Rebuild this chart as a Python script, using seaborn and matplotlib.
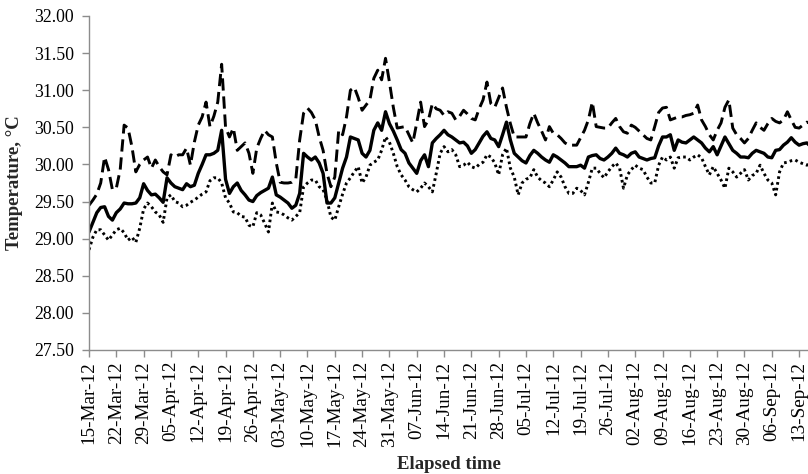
import numpy as np
import pandas as pd
import matplotlib
matplotlib.use("Agg")
import matplotlib.pyplot as plt
import matplotlib.dates as mdates
import seaborn as sns

start_date = "2012-03-15"
n_days = 186

mean_temp = [
    29.09, 29.22, 29.35, 29.42, 29.43, 29.30, 29.25, 29.35, 29.40, 29.48,
    29.47, 29.47, 29.48, 29.55, 29.74, 29.65, 29.59, 29.60, 29.55, 29.49,
    29.82, 29.75, 29.70, 29.68, 29.66, 29.74, 29.70, 29.72, 29.88, 30.00,
    30.13, 30.13, 30.15, 30.19, 30.46, 29.80, 29.61, 29.70, 29.75, 29.65,
    29.59, 29.52, 29.50, 29.58, 29.62, 29.65, 29.68, 29.83, 29.59, 29.56,
    29.52, 29.48, 29.41, 29.45, 29.61, 30.15, 30.10, 30.06, 30.10, 30.02,
    29.88, 29.48, 29.48, 29.55, 29.75, 29.95, 30.10, 30.37, 30.35, 30.33,
    30.15, 30.10, 30.19, 30.46, 30.56, 30.46, 30.71, 30.55, 30.45, 30.33,
    30.20, 30.15, 30.02, 29.95, 29.88, 30.05, 30.13, 29.97, 30.29, 30.35,
    30.40, 30.46, 30.40, 30.37, 30.33, 30.29, 30.30, 30.25, 30.15, 30.20,
    30.29, 30.38, 30.44, 30.35, 30.33, 30.24, 30.40, 30.57, 30.33, 30.15,
    30.10, 30.05, 30.02, 30.12, 30.19, 30.15, 30.10, 30.06, 30.03, 30.13,
    30.10, 30.06, 30.02, 29.97, 29.97, 29.97, 29.99, 29.95, 30.10, 30.12,
    30.13, 30.08, 30.06, 30.10, 30.15, 30.22, 30.15, 30.13, 30.10, 30.15,
    30.17, 30.10, 30.08, 30.06, 30.08, 30.09, 30.25, 30.37, 30.37, 30.40,
    30.19, 30.33, 30.30, 30.29, 30.33, 30.37, 30.33, 30.29, 30.22, 30.17,
    30.24, 30.13, 30.25, 30.37, 30.28, 30.19, 30.15, 30.10, 30.10, 30.09,
    30.15, 30.19, 30.17, 30.15, 30.10, 30.09, 30.19, 30.20, 30.26, 30.30,
    30.36, 30.30, 30.26, 30.28, 30.29, 30.24,
]

max_temp = [
    29.45, 29.52, 29.60, 29.75, 30.10, 29.93, 29.66, 29.68, 29.93, 30.53,
    30.49, 30.24, 29.90, 30.00, 30.06, 30.10, 29.95, 30.06, 29.97, 29.90,
    29.86, 30.13, 30.10, 30.13, 30.13, 30.22, 29.99, 30.30, 30.53, 30.64,
    30.84, 30.51, 30.65, 30.84, 31.35, 30.50, 30.37, 30.49, 30.19, 30.24,
    30.29, 30.15, 29.88, 30.22, 30.35, 30.46, 30.40, 30.37, 30.02, 29.76,
    29.75, 29.75, 29.76, 29.80, 30.33, 30.69, 30.76, 30.70, 30.60, 30.37,
    30.19, 29.88, 29.70, 29.83, 30.46, 30.40, 30.64, 31.00, 31.04, 30.90,
    30.73, 30.80, 30.87, 31.16, 31.27, 31.14, 31.43, 31.11, 30.77, 30.49,
    30.50, 30.51, 30.40, 30.29, 30.56, 30.84, 30.51, 30.60, 30.82, 30.75,
    30.73, 30.66, 30.71, 30.69, 30.60, 30.65, 30.73, 30.68, 30.62, 30.60,
    30.75, 30.87, 31.11, 30.82, 30.77, 30.90, 31.03, 30.77, 30.55, 30.37,
    30.37, 30.37, 30.37, 30.55, 30.69, 30.56, 30.45, 30.33, 30.51, 30.42,
    30.40, 30.35, 30.29, 30.26, 30.26, 30.26, 30.36, 30.46, 30.60, 30.84,
    30.51, 30.50, 30.49, 30.49, 30.56, 30.62, 30.51, 30.44, 30.42, 30.53,
    30.50, 30.45, 30.40, 30.35, 30.33, 30.51, 30.70, 30.76, 30.77, 30.60,
    30.62, 30.64, 30.64, 30.66, 30.67, 30.69, 30.80, 30.60, 30.51, 30.40,
    30.33, 30.46, 30.56, 30.77, 30.87, 30.49, 30.40, 30.35, 30.29, 30.35,
    30.46, 30.56, 30.50, 30.46, 30.55, 30.62, 30.58, 30.56, 30.60, 30.71,
    30.60, 30.50, 30.49, 30.53, 30.57, 30.55,
]

min_temp = [
    28.85, 29.02, 29.12, 29.12, 29.05, 28.98, 29.05, 29.12, 29.14, 29.08,
    28.98, 29.02, 28.95, 29.14, 29.40, 29.48, 29.43, 29.36, 29.32, 29.22,
    29.55, 29.59, 29.50, 29.48, 29.43, 29.45, 29.49, 29.52, 29.56, 29.60,
    29.63, 29.78, 29.82, 29.82, 29.75, 29.55, 29.48, 29.36, 29.35, 29.30,
    29.29, 29.18, 29.16, 29.35, 29.32, 29.21, 29.09, 29.48, 29.36, 29.35,
    29.32, 29.28, 29.25, 29.30, 29.35, 29.70, 29.75, 29.79, 29.79, 29.70,
    29.66, 29.52, 29.29, 29.25, 29.43, 29.60, 29.75, 29.82, 29.90, 29.97,
    29.75, 29.83, 29.99, 30.03, 30.06, 30.19, 30.37, 30.30, 30.15, 29.97,
    29.86, 29.79, 29.70, 29.66, 29.63, 29.68, 29.75, 29.70, 29.63, 29.88,
    30.15, 30.24, 30.17, 30.20, 30.13, 29.97, 29.99, 30.03, 29.97, 29.95,
    30.00, 30.03, 30.13, 30.10, 30.02, 29.86, 30.13, 30.22, 29.95, 29.83,
    29.59, 29.75, 29.80, 29.82, 29.93, 29.83, 29.78, 29.75, 29.70, 29.79,
    29.90, 29.83, 29.70, 29.61, 29.61, 29.68, 29.65, 29.59, 29.76, 29.95,
    29.95, 29.88, 29.82, 29.90, 29.97, 30.02, 29.95, 29.68, 29.86, 29.93,
    29.99, 29.95, 29.93, 29.83, 29.75, 29.75, 29.99, 30.10, 30.06, 30.10,
    29.95, 30.09, 30.10, 30.10, 30.06, 30.10, 30.13, 30.09, 29.97, 29.86,
    29.97, 29.88, 29.79, 29.68, 29.95, 29.90, 29.83, 29.88, 29.93, 29.79,
    29.85, 29.88, 29.99, 29.88, 29.79, 29.75, 29.59, 29.90, 30.02, 30.03,
    30.05, 30.06, 30.03, 30.01, 29.99, 30.02,
]

y_ticks = [27.5, 28.0, 28.5, 29.0, 29.5, 30.0, 30.5, 31.0, 31.5, 32.0]
y_label = "Temperature, °C"
x_label = "Elapsed time"

dates = pd.date_range(start_date, periods=n_days, freq="D")
df = pd.DataFrame({"date": dates, "mean": mean_temp, "max": max_temp, "min": min_temp})

sns.set_theme(style="white")
plt.rcParams["font.family"] = ["Liberation Serif", "DejaVu Serif"]

fig = plt.figure(figsize=(8.08, 4.74), dpi=100)
ax = fig.add_axes([89 / 808, 1 - 350 / 474, 1 - 89 / 808 + 0.002, (350 - 16) / 474])

lw = 2.1
sns.lineplot(data=df, x="date", y="max", ax=ax, color="black", linewidth=lw,
             linestyle=(0, (4.2, 2.0)))
sns.lineplot(data=df, x="date", y="min", ax=ax, color="black", linewidth=lw,
             linestyle=(0, (0.9, 1.1)))
sns.lineplot(data=df, x="date", y="mean", ax=ax, color="black", linewidth=lw + 0.3)

ax.set_ylim(27.5, 32.0)
ax.set_yticks(y_ticks)
ax.set_yticklabels([f"{v:.2f}" for v in y_ticks])

xt = pd.date_range(start_date, periods=27, freq="7D")
ax.set_xticks(xt)
ax.xaxis.set_major_formatter(mdates.DateFormatter("%d-%b-%y"))
ax.set_xlim(dates[0], dates[0] + pd.Timedelta(days=184.7))
for lab in ax.get_xticklabels():
    lab.set_rotation(90)

spine_color = "#8c8c8c"
for side in ["top", "right"]:
    ax.spines[side].set_visible(False)
for side in ["left", "bottom"]:
    ax.spines[side].set_color(spine_color)
    ax.spines[side].set_linewidth(1.0)

ax.tick_params(axis="both", which="major", direction="out", length=5, width=1.0,
               color=spine_color, labelcolor="black", left=True, bottom=True)
ax.tick_params(axis="y", pad=6, labelsize=12.8)
ax.tick_params(axis="x", pad=3, labelsize=13.8)

ax.set_xlabel(x_label, fontsize=13.5, fontweight="bold", labelpad=6)
ax.set_ylabel(y_label, fontsize=13.5, fontweight="bold", labelpad=8)
ax.grid(False)

fig.savefig("out.png", dpi=100)
